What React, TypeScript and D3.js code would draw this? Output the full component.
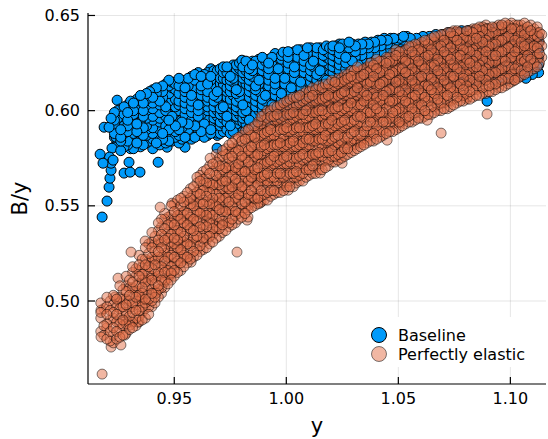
import React from 'react';
import * as d3 from 'd3';

// Baseline: x value (y) with the B/y values, column by column
const baselineCols: [number, number[]][] = [
  [0.9233, [.581,.586,.588,.593,.595,.599]],
  [0.9261, [.579,.584,.586,.590,.594,.597,.601]],
  [0.9292, [.582,.584,.589,.592,.595,.599,.603]],
  [0.9318, [.580,.585,.588,.591,.594,.598,.600,.604]],
  [0.9349, [.581,.584,.589,.593,.595,.598,.602,.605,.608]],
  [0.9376, [.583,.587,.590,.592,.596,.600,.603,.606,.609]],
  [0.9404, [.580,.585,.588,.591,.595,.597,.601,.604,.607,.611]],
  [0.9435, [.582,.586,.590,.594,.596,.599,.603,.605,.609,.612]],
  [0.9462, [.583,.585,.589,.592,.597,.600,.602,.606,.608,.611,.614]],
  [0.9490, [.584,.588,.591,.593,.597,.601,.604,.607,.610,.612,.615]],
  [0.9521, [.583,.587,.590,.594,.598,.600,.603,.605,.609,.613,.617]],
  [0.9548, [.586,.589,.592,.596,.598,.601,.604,.607,.610,.612,.615]],
  [0.9577, [.585,.588,.591,.595,.599,.602,.605,.608,.611,.614,.618]],
  [0.9607, [.587,.590,.594,.597,.600,.603,.605,.609,.612,.614,.617,.620]],
  [0.9634, [.586,.591,.593,.596,.599,.602,.606,.608,.611,.615,.619]],
  [0.9663, [.588,.590,.594,.598,.601,.603,.606,.609,.613,.616,.618,.622]],
  [0.9692, [.587,.591,.595,.597,.600,.604,.607,.610,.612,.615,.619,.621]],
  [0.9719, [.589,.593,.596,.599,.602,.605,.608,.611,.614,.617,.620,.623]],
  [0.9750, [.588,.592,.594,.598,.601,.604,.606,.610,.613,.616,.618,.622]],
  [0.9777, [.590,.593,.597,.600,.602,.605,.609,.611,.614,.618,.621,.624]],
  [0.9806, [.589,.594,.596,.599,.603,.606,.608,.612,.615,.617,.620,.623]],
  [0.9835, [.591,.595,.598,.601,.604,.607,.610,.613,.616,.619,.622,.625]],
  [0.9863, [.592,.594,.598,.602,.605,.608,.611,.613,.617,.620,.622,.626]],
  [0.9893, [.593,.597,.600,.603,.606,.609,.612,.615,.618,.621,.624,.628]],
  [0.9921, [.594,.598,.601,.604,.607,.609,.613,.616,.619,.622,.625,.627]],
  [0.9950, [.595,.599,.602,.605,.608,.611,.614,.617,.620,.623,.626,.630]],
  [0.9978, [.597,.600,.603,.606,.609,.612,.615,.618,.621,.624,.627,.629]],
  [1.0008, [.597,.601,.604,.607,.610,.613,.616,.619,.622,.625,.628,.631]],
  [1.0036, [.599,.602,.605,.608,.611,.614,.617,.620,.623,.626,.629,.631]],
  [1.0064, [.599,.603,.606,.609,.612,.615,.618,.621,.624,.627,.630,.632]],
  [1.0094, [.600,.604,.607,.610,.613,.616,.619,.622,.625,.628,.630,.633]],
  [1.0121, [.602,.605,.608,.611,.614,.617,.620,.623,.626,.629,.632]],
  [1.0151, [.602,.606,.609,.612,.615,.618,.621,.624,.627,.630,.633]],
  [1.0179, [.603,.607,.610,.613,.616,.619,.622,.625,.628,.631,.634]],
  [1.0208, [.604,.608,.611,.614,.617,.620,.623,.626,.629,.632,.634]],
  [1.0237, [.605,.608,.612,.615,.618,.621,.624,.627,.630,.633,.635]],
  [1.0265, [.606,.609,.612,.616,.619,.622,.625,.628,.631,.634]],
  [1.0294, [.606,.610,.613,.617,.620,.623,.626,.629,.632,.635]],
  [1.0322, [.607,.611,.614,.617,.621,.624,.627,.630,.633,.635]],
  [1.0352, [.608,.611,.615,.618,.621,.624,.628,.631,.634,.636]],
  [1.0380, [.609,.612,.616,.619,.622,.625,.628,.631,.634,.636]],
  [1.0409, [.609,.613,.616,.620,.623,.626,.629,.632,.635,.637]],
  [1.0437, [.610,.613,.617,.620,.623,.627,.630,.633,.636,.638]],
  [1.0466, [.610,.614,.617,.621,.624,.627,.630,.633,.636,.638]],
  [1.0495, [.611,.614,.618,.621,.624,.628,.631,.634,.637]],
  [1.0523, [.611,.615,.618,.622,.625,.628,.631,.634,.637,.639]],
  [1.0553, [.612,.615,.619,.622,.625,.629,.632,.635,.638]],
  [1.0581, [.612,.616,.619,.623,.626,.629,.632,.635,.638]],
  [1.0610, [.613,.616,.620,.623,.626,.630,.633,.636,.639]],
  [1.0638, [.613,.617,.620,.624,.627,.630,.633,.636,.639]],
  [1.0667, [.614,.617,.621,.624,.627,.631,.634,.637,.640]],
  [1.0696, [.614,.618,.621,.625,.628,.631,.634,.637,.640]],
  [1.0724, [.615,.618,.622,.625,.628,.632,.635,.638,.641]],
  [1.0754, [.614,.618,.622,.626,.629,.632,.635,.638,.641]],
  [1.0782, [.615,.619,.623,.626,.629,.633,.636,.639,.642]],
  [1.0811, [.616,.619,.623,.627,.630,.633,.636,.639,.642]],
  [1.0839, [.615,.620,.624,.627,.630,.634,.637,.640,.642]],
  [1.0868, [.616,.620,.624,.628,.631,.634,.637,.640,.643]],
  [1.0897, [.617,.621,.625,.628,.631,.635,.638,.641,.643]],
  [1.0925, [.616,.621,.625,.629,.632,.635,.638,.641,.643]],
  [1.0955, [.617,.622,.626,.629,.632,.636,.639,.642,.644]],
  [1.0983, [.616,.620,.625,.629,.633,.636,.639,.642,.644]],
  [1.1012, [.617,.621,.626,.630,.633,.637,.640,.643]],
  [1.1040, [.618,.622,.626,.630,.634,.637,.640,.643]],
  [1.1069, [.617,.621,.627,.631,.634,.637,.640,.642]],
  [1.1098, [.619,.623,.627,.631,.635,.638,.641]],
  [1.1126, [.620,.624,.628,.632,.636,.639]],
];

// Baseline: second set of columns, between the first ones
const baselineCols2: [number, number[]][] = [
  [0.9247, [.583,.590,.596,.600]],
  [0.9276, [.581,.588,.592,.598,.602]],
  [0.9305, [.580,.586,.591,.597,.601,.605]],
  [0.9333, [.583,.589,.593,.596,.603,.606]],
  [0.9362, [.582,.587,.591,.597,.600,.604,.607]],
  [0.9390, [.584,.589,.594,.598,.602,.605,.610]],
  [0.9420, [.583,.587,.592,.599,.602,.606,.609,.612]],
  [0.9448, [.585,.588,.592,.595,.601,.604,.607,.610,.613]],
  [0.9476, [.584,.590,.595,.599,.603,.605,.609,.613,.616]],
  [0.9505, [.586,.589,.592,.596,.599,.602,.606,.611,.614]],
  [0.9534, [.585,.591,.594,.597,.601,.604,.608,.611,.616]],
  [0.9562, [.587,.590,.593,.597,.600,.603,.607,.610,.613,.617]],
  [0.9592, [.586,.592,.596,.599,.601,.606,.610,.612,.616,.619]],
  [0.9620, [.589,.592,.595,.598,.601,.604,.608,.611,.613,.618]],
  [0.9649, [.587,.590,.595,.600,.602,.605,.607,.610,.614,.617,.620]],
  [0.9677, [.589,.593,.596,.599,.602,.605,.608,.612,.615,.619,.621]],
  [0.9705, [.588,.592,.594,.598,.601,.606,.609,.611,.614,.617,.622]],
  [0.9735, [.590,.594,.597,.600,.603,.607,.610,.612,.616,.620,.623]],
  [0.9763, [.589,.592,.596,.599,.603,.606,.608,.612,.615,.617,.621,.624]],
  [0.9791, [.591,.595,.598,.601,.604,.607,.610,.614,.616,.619,.622,.625]],
  [0.9820, [.590,.593,.597,.600,.602,.605,.609,.612,.614,.618,.621,.626]],
  [0.9849, [.592,.596,.599,.603,.606,.609,.612,.615,.618,.621,.624,.626]],
  [0.9878, [.593,.597,.600,.604,.607,.610,.614,.616,.619,.623,.627]],
  [0.9907, [.594,.596,.599,.602,.605,.608,.611,.614,.617,.620,.623,.626]],
  [0.9936, [.595,.600,.603,.606,.608,.612,.615,.618,.621,.624,.628]],
  [0.9964, [.596,.598,.601,.604,.607,.610,.613,.616,.619,.622,.625,.629]],
  [0.9993, [.598,.601,.605,.608,.611,.614,.617,.620,.623,.626,.630]],
  [1.0022, [.598,.602,.606,.609,.612,.615,.618,.621,.624,.627,.630]],
  [1.0050, [.600,.603,.606,.610,.613,.616,.619,.622,.625,.628,.632]],
  [1.0079, [.601,.605,.608,.611,.614,.617,.620,.623,.626,.629,.631]],
  [1.0108, [.601,.606,.609,.612,.615,.618,.621,.624,.627,.631,.633]],
  [1.0136, [.603,.606,.610,.613,.616,.619,.622,.625,.628,.630,.633]],
  [1.0165, [.604,.607,.611,.614,.617,.620,.623,.626,.629,.632]],
  [1.0193, [.605,.609,.612,.615,.618,.621,.624,.627,.630,.633]],
  [1.0222, [.605,.610,.613,.616,.619,.622,.625,.628,.631,.634]],
  [1.0251, [.607,.610,.614,.617,.620,.623,.626,.629,.632,.635]],
  [1.0280, [.607,.611,.614,.618,.621,.624,.627,.630,.633,.636]],
  [1.0308, [.608,.612,.615,.619,.622,.625,.628,.631,.634]],
  [1.0337, [.609,.613,.616,.619,.623,.626,.629,.632,.635]],
  [1.0366, [.609,.614,.617,.620,.623,.626,.630,.633,.635]],
  [1.0394, [.610,.614,.618,.621,.624,.627,.630,.633,.636]],
  [1.0423, [.611,.615,.618,.621,.625,.628,.631,.634,.637]],
  [1.0451, [.611,.615,.619,.622,.625,.629,.632,.635,.637]],
  [1.0480, [.612,.616,.619,.623,.626,.629,.632,.635,.638]],
  [1.0509, [.612,.616,.620,.623,.627,.630,.633,.636,.638]],
  [1.0538, [.613,.617,.620,.624,.627,.630,.634,.637,.639]],
  [1.0567, [.613,.617,.621,.624,.628,.631,.634,.637]],
  [1.0596, [.614,.618,.621,.625,.628,.631,.635,.638]],
  [1.0624, [.614,.618,.622,.625,.629,.632,.635,.638]],
  [1.0652, [.615,.619,.622,.626,.629,.632,.636,.639]],
  [1.0681, [.615,.619,.623,.626,.630,.633,.636,.639]],
  [1.0710, [.616,.620,.623,.627,.630,.633,.637,.640]],
  [1.0739, [.616,.620,.624,.627,.631,.634,.637,.640]],
  [1.0768, [.617,.621,.624,.628,.631,.634,.638,.641]],
  [1.0796, [.617,.621,.625,.628,.632,.635,.638,.641]],
  [1.0825, [.617,.622,.625,.629,.632,.635,.639,.641]],
  [1.0853, [.618,.622,.626,.629,.633,.636,.639,.642]],
  [1.0882, [.618,.622,.626,.630,.633,.636,.639,.642]],
  [1.0911, [.618,.623,.627,.630,.634,.637,.640,.642]],
  [1.0940, [.619,.623,.627,.631,.634,.637,.640,.643]],
  [1.0969, [.619,.624,.628,.631,.635,.638,.641,.643]],
  [1.0997, [.620,.624,.628,.632,.635,.638,.641]],
  [1.1026, [.619,.624,.629,.632,.636,.639,.642]],
  [1.1054, [.620,.625,.629,.633,.636,.639]],
  [1.1083, [.621,.625,.630,.633,.637,.640]],
  [1.1112, [.622,.626,.630,.634,.638]],
];

const baselineExtra: [number, number][] = [
  [0.9169, .5771], [0.9182, .5724], [0.9178, .5441], [0.9200, .5525], [0.9209, .5598],
  [0.9213, .5645], [0.9218, .5687], [0.9218, .5724], [0.9227, .5740], [0.9187, .5913],
  [0.9209, .5913], [0.9218, .5960], [0.9232, .5913], [0.9240, .5861], [0.9245, .6055],
  [0.9222, .5803], [0.9211, .5756], [0.9276, .5672], [0.9303, .5677], [0.9347, .5677],
  [0.9298, .5729], [0.9428, .5729], [0.9468, .5808], [0.9548, .5808], [0.9691, .5803],
  [0.9691, .5882], [0.9802, .6265], [0.9825, .6254], [0.9986, .6307], [1.0896, .6050],
];

// Perfectly elastic
const elasticCols: [number, number[]][] = [
  [0.9172, [.484,.491,.494,.499]],
  [0.9199, [.480,.486,.488,.493,.497,.502]],
  [0.9228, [.478,.482,.486,.491,.494,.498,.503]],
  [0.9257, [.481,.485,.488,.491,.496,.499,.502,.508]],
  [0.9285, [.483,.488,.490,.494,.498,.501,.505,.508,.513]],
  [0.9314, [.486,.489,.494,.497,.499,.503,.507,.510,.515,.518]],
  [0.9343, [.489,.492,.495,.500,.503,.505,.509,.513,.516,.519,.524]],
  [0.9371, [.491,.496,.499,.501,.506,.510,.512,.516,.519,.522,.528]],
  [0.9400, [.497,.500,.504,.506,.511,.513,.517,.521,.523,.528,.531,.536]],
  [0.9429, [.502,.506,.508,.513,.515,.519,.523,.526,.530,.532,.537,.541]],
  [0.9457, [.507,.510,.515,.517,.521,.525,.527,.532,.534,.538,.543,.546]],
  [0.9486, [.511,.514,.518,.522,.524,.529,.531,.535,.539,.541,.545,.550]],
  [0.9515, [.515,.519,.521,.526,.528,.532,.535,.537,.542,.545,.548,.553]],
  [0.9543, [.518,.522,.524,.529,.531,.534,.539,.541,.545,.547,.552,.555]],
  [0.9572, [.522,.524,.529,.531,.536,.538,.542,.544,.549,.551,.554,.559]],
  [0.9601, [.524,.527,.532,.534,.538,.542,.545,.547,.551,.555,.557,.562,.565]],
  [0.9629, [.527,.531,.533,.538,.540,.545,.547,.551,.553,.558,.561,.564,.568]],
  [0.9658, [.530,.534,.536,.541,.543,.546,.551,.553,.557,.560,.562,.567,.571]],
  [0.9687, [.533,.537,.539,.543,.547,.550,.552,.556,.560,.562,.566,.570,.573,.577]],
  [0.9715, [.536,.540,.542,.547,.549,.553,.555,.559,.563,.565,.569,.571,.576,.579]],
  [0.9744, [.539,.541,.546,.548,.552,.556,.559,.561,.565,.569,.571,.575,.578,.582]],
  [0.9773, [.541,.545,.547,.552,.554,.558,.562,.564,.568,.570,.574,.578,.580,.585]],
  [0.9801, [.544,.547,.551,.555,.558,.560,.564,.568,.570,.574,.576,.580,.584,.587]],
  [0.9830, [.548,.550,.554,.556,.561,.563,.567,.569,.573,.577,.579,.583,.586,.590]],
  [0.9859, [.550,.554,.556,.560,.564,.567,.569,.573,.576,.578,.582,.586,.588,.592]],
  [0.9887, [.552,.555,.558,.563,.565,.568,.572,.574,.577,.581,.584,.587,.590,.593,.597]],
  [0.9916, [.553,.557,.561,.563,.567,.571,.573,.577,.580,.582,.586,.589,.592,.596,.600]],
  [0.9945, [.556,.558,.563,.565,.569,.572,.576,.578,.582,.585,.587,.591,.595,.597,.602]],
  [0.9973, [.557,.561,.565,.567,.571,.574,.577,.581,.583,.586,.590,.592,.596,.600,.603]],
  [1.0002, [.560,.562,.566,.570,.572,.576,.579,.582,.585,.589,.591,.594,.598,.601,.605]],
  [1.0031, [.560,.565,.567,.571,.575,.577,.581,.584,.586,.590,.593,.596,.599,.603,.607]],
  [1.0059, [.563,.566,.570,.572,.576,.580,.582,.585,.589,.591,.595,.598,.600,.604,.608]],
  [1.0088, [.565,.569,.571,.575,.579,.581,.585,.587,.591,.594,.596,.600,.603,.606,.610]],
  [1.0117, [.567,.571,.574,.577,.580,.584,.586,.590,.592,.596,.599,.601,.605,.608,.612]],
  [1.0145, [.569,.572,.576,.578,.582,.585,.588,.591,.594,.597,.600,.603,.606,.609,.613]],
  [1.0174, [.570,.574,.578,.580,.584,.587,.589,.593,.596,.598,.602,.605,.607,.611,.614]],
  [1.0203, [.573,.576,.579,.583,.585,.589,.591,.595,.597,.601,.603,.607,.609,.612,.616]],
  [1.0231, [.574,.577,.581,.583,.587,.590,.593,.596,.598,.602,.605,.608,.611,.614,.617]],
  [1.0260, [.576,.580,.583,.586,.589,.592,.595,.599,.601,.604,.608,.610,.614,.616,.619]],
  [1.0289, [.578,.582,.584,.588,.591,.594,.598,.600,.604,.606,.609,.613,.615,.618,.621]],
  [1.0317, [.580,.584,.587,.590,.593,.597,.599,.603,.605,.608,.612,.614,.617,.620,.623]],
  [1.0346, [.582,.585,.589,.592,.596,.598,.601,.605,.607,.610,.613,.616,.619,.622]],
  [1.0375, [.584,.587,.590,.594,.597,.599,.603,.606,.608,.612,.615,.617,.621,.623,.625]],
  [1.0403, [.585,.589,.592,.595,.598,.601,.604,.607,.610,.613,.616,.619,.622,.624,.627]],
  [1.0432, [.587,.590,.594,.597,.599,.603,.606,.608,.612,.615,.617,.621,.623,.626]],
  [1.0461, [.589,.592,.596,.598,.602,.605,.607,.611,.613,.617,.619,.622,.626,.628]],
  [1.0489, [.590,.594,.597,.600,.603,.606,.609,.612,.615,.618,.621,.624,.627,.629,.632]],
  [1.0518, [.592,.595,.599,.601,.605,.608,.610,.614,.616,.620,.622,.626,.628,.631]],
  [1.0547, [.594,.597,.600,.604,.606,.609,.613,.615,.619,.621,.625,.627,.630,.634]],
  [1.0575, [.595,.599,.602,.605,.608,.611,.614,.617,.620,.623,.626,.629,.632,.635]],
  [1.0604, [.596,.600,.603,.606,.609,.613,.615,.618,.622,.624,.627,.631,.633,.636]],
  [1.0633, [.598,.601,.605,.607,.611,.613,.617,.619,.623,.625,.629,.631,.635,.637]],
  [1.0661, [.599,.602,.606,.609,.612,.615,.618,.621,.624,.627,.630,.633,.636,.639]],
  [1.0690, [.600,.604,.607,.610,.613,.616,.619,.622,.625,.628,.631,.634,.637,.640]],
  [1.0719, [.601,.605,.608,.611,.614,.617,.620,.623,.626,.629,.632,.635,.638,.641]],
  [1.0747, [.603,.606,.610,.612,.616,.618,.622,.624,.628,.630,.634,.636,.639,.642]],
  [1.0776, [.605,.608,.611,.614,.617,.620,.623,.626,.629,.632,.635,.638,.641]],
  [1.0805, [.606,.609,.613,.615,.619,.621,.625,.627,.631,.633,.637,.639,.642]],
  [1.0833, [.607,.611,.614,.617,.620,.623,.626,.629,.632,.635,.638,.641,.643]],
  [1.0862, [.608,.612,.615,.618,.621,.624,.627,.630,.633,.636,.639,.642,.644]],
  [1.0891, [.609,.613,.616,.619,.622,.625,.628,.631,.634,.637,.640,.643,.645]],
  [1.0919, [.610,.614,.617,.620,.623,.626,.629,.632,.635,.638,.641,.644]],
  [1.0948, [.612,.615,.619,.621,.625,.627,.631,.633,.637,.639,.642,.645]],
  [1.0977, [.613,.617,.620,.623,.626,.629,.632,.635,.638,.641,.644,.646]],
  [1.1005, [.615,.619,.622,.625,.628,.631,.634,.637,.640,.643,.646]],
  [1.1034, [.617,.620,.624,.627,.630,.633,.636,.639,.642,.645]],
  [1.1063, [.619,.622,.626,.628,.632,.634,.638,.640,.643,.646]],
  [1.1091, [.621,.624,.627,.631,.633,.637,.639,.642,.645]],
  [1.1120, [.623,.627,.629,.633,.635,.639,.641,.644]],
  [1.1140, [.628,.634,.640]],
];

// Perfectly elastic: second set of columns, between the first ones
const elasticCols2: [number, number[]][] = [
  [0.9186, [.482,.487,.496]],
  [0.9214, [.479,.484,.490,.495,.500]],
  [0.9243, [.480,.484,.489,.493,.497,.501]],
  [0.9271, [.482,.487,.490,.494,.497,.501,.506]],
  [0.9300, [.485,.489,.492,.496,.500,.503,.507,.511]],
  [0.9329, [.487,.491,.495,.498,.502,.505,.508,.513,.517]],
  [0.9357, [.490,.494,.497,.501,.504,.507,.511,.514,.518,.522]],
  [0.9386, [.493,.497,.501,.504,.508,.511,.514,.518,.521,.525,.530]],
  [0.9414, [.499,.502,.505,.509,.512,.516,.519,.522,.526,.530,.534]],
  [0.9443, [.504,.507,.511,.514,.518,.521,.524,.528,.531,.535,.539,.543]],
  [0.9472, [.509,.512,.516,.519,.523,.526,.530,.533,.536,.540,.544]],
  [0.9500, [.513,.516,.520,.523,.527,.530,.533,.537,.540,.543,.547,.551]],
  [0.9529, [.516,.520,.523,.527,.530,.533,.536,.540,.543,.546,.550,.554]],
  [0.9558, [.520,.523,.526,.530,.533,.537,.540,.543,.546,.550,.553,.557]],
  [0.9586, [.523,.526,.530,.533,.537,.540,.543,.546,.550,.553,.556,.560]],
  [0.9615, [.526,.529,.533,.536,.539,.543,.546,.549,.552,.556,.559,.563,.566]],
  [0.9644, [.528,.532,.535,.539,.542,.545,.548,.552,.555,.558,.562,.565,.569]],
  [0.9672, [.531,.535,.538,.541,.545,.548,.551,.554,.558,.561,.564,.568,.572]],
  [0.9701, [.534,.538,.541,.544,.548,.551,.554,.557,.561,.564,.567,.571,.575]],
  [0.9730, [.537,.541,.544,.547,.550,.554,.557,.560,.563,.567,.570,.573,.577,.580]],
  [0.9758, [.540,.543,.547,.550,.553,.557,.560,.563,.566,.569,.573,.576,.580,.583]],
  [0.9787, [.543,.546,.549,.553,.556,.559,.562,.566,.569,.572,.575,.579,.582,.586]],
  [0.9816, [.546,.549,.552,.556,.559,.562,.565,.568,.572,.575,.578,.581,.585,.589]],
  [0.9844, [.549,.552,.555,.558,.562,.565,.568,.571,.574,.578,.581,.584,.587,.591]],
  [0.9873, [.551,.554,.558,.561,.564,.567,.570,.574,.577,.580,.583,.586,.590,.594]],
  [0.9902, [.553,.556,.560,.563,.566,.569,.572,.576,.579,.582,.585,.588,.591,.595,.598]],
  [0.9930, [.555,.558,.562,.565,.568,.571,.574,.577,.581,.584,.587,.590,.593,.597,.600]],
  [0.9959, [.557,.560,.563,.567,.570,.573,.576,.579,.582,.585,.589,.592,.595,.598,.602]],
  [0.9988, [.558,.562,.565,.568,.572,.575,.578,.581,.584,.587,.590,.593,.597,.600,.604]],
  [1.0016, [.560,.563,.567,.570,.573,.577,.580,.583,.586,.589,.592,.595,.598,.602,.606]],
  [1.0045, [.562,.565,.568,.572,.575,.578,.581,.584,.588,.591,.594,.597,.600,.603,.607]],
  [1.0074, [.563,.567,.570,.574,.577,.580,.583,.586,.589,.592,.595,.598,.601,.605,.609]],
  [1.0102, [.566,.569,.573,.576,.579,.582,.585,.588,.591,.594,.597,.600,.603,.607,.610]],
  [1.0131, [.567,.571,.574,.577,.581,.584,.587,.590,.593,.596,.599,.602,.605,.608,.611]],
  [1.0160, [.569,.573,.576,.579,.582,.585,.588,.591,.594,.597,.600,.603,.606,.609,.612]],
  [1.0188, [.571,.574,.578,.581,.584,.587,.590,.593,.596,.599,.602,.605,.608,.611,.614]],
  [1.0217, [.573,.576,.579,.582,.586,.589,.592,.595,.598,.601,.604,.607,.610,.613,.615]],
  [1.0246, [.575,.578,.581,.584,.588,.591,.594,.597,.600,.603,.606,.609,.612,.615,.617]],
  [1.0274, [.577,.580,.583,.586,.590,.593,.596,.599,.602,.605,.608,.611,.614,.617,.619]],
  [1.0303, [.579,.582,.585,.589,.592,.595,.598,.601,.604,.607,.610,.613,.616,.619,.621]],
  [1.0332, [.581,.584,.587,.591,.594,.597,.600,.603,.606,.609,.612,.615,.618,.621]],
  [1.0360, [.583,.586,.589,.592,.596,.599,.602,.605,.608,.611,.614,.617,.620,.623]],
  [1.0389, [.584,.588,.591,.594,.597,.600,.603,.606,.609,.612,.615,.618,.621,.624]],
  [1.0418, [.586,.589,.593,.596,.599,.602,.605,.608,.611,.614,.617,.620,.623,.626]],
  [1.0446, [.588,.591,.594,.597,.601,.604,.607,.610,.613,.616,.619,.622,.625,.628]],
  [1.0475, [.589,.593,.596,.599,.602,.605,.608,.611,.614,.617,.620,.623,.626,.630]],
  [1.0504, [.591,.594,.598,.601,.604,.607,.610,.613,.616,.619,.622,.625,.628,.631]],
  [1.0532, [.593,.596,.599,.602,.605,.608,.611,.614,.617,.620,.623,.626,.629,.632]],
  [1.0561, [.594,.598,.601,.604,.607,.610,.613,.616,.619,.622,.625,.628,.631,.634]],
  [1.0590, [.596,.599,.602,.605,.608,.611,.614,.617,.620,.623,.626,.629,.632,.635]],
  [1.0618, [.597,.600,.604,.607,.610,.613,.616,.619,.622,.625,.628,.631,.634,.637]],
  [1.0647, [.598,.602,.605,.608,.611,.614,.617,.620,.623,.626,.629,.632,.635,.638]],
  [1.0676, [.600,.603,.606,.609,.612,.615,.618,.621,.624,.627,.630,.633,.636,.639]],
  [1.0704, [.601,.604,.607,.610,.613,.616,.619,.622,.625,.628,.631,.634,.637,.640]],
  [1.0733, [.602,.605,.609,.612,.615,.618,.621,.624,.627,.630,.633,.636,.639,.641]],
  [1.0762, [.604,.607,.610,.613,.616,.619,.622,.625,.628,.631,.634,.637,.640,.642]],
  [1.0790, [.605,.608,.611,.614,.617,.620,.623,.626,.629,.632,.635,.638,.641]],
  [1.0819, [.606,.610,.613,.616,.619,.622,.625,.628,.631,.634,.637,.640,.642]],
  [1.0848, [.608,.611,.614,.617,.620,.623,.626,.629,.632,.635,.638,.641,.643]],
  [1.0876, [.609,.612,.615,.618,.621,.624,.627,.630,.633,.636,.639,.642,.644]],
  [1.0905, [.610,.613,.616,.619,.622,.625,.628,.631,.634,.637,.640,.643]],
  [1.0934, [.611,.614,.617,.620,.623,.626,.629,.632,.635,.638,.641,.644]],
  [1.0962, [.612,.616,.619,.622,.625,.628,.631,.634,.637,.640,.643,.645]],
  [1.0991, [.614,.617,.620,.623,.627,.630,.633,.636,.639,.642,.645]],
  [1.1020, [.616,.619,.622,.625,.628,.631,.634,.637,.640,.643,.645]],
  [1.1048, [.618,.621,.624,.627,.630,.633,.636,.639,.642,.645]],
  [1.1077, [.620,.623,.626,.629,.632,.635,.638,.641,.644]],
  [1.1106, [.622,.625,.628,.631,.634,.637,.640,.643]],
  [1.1130, [.625,.630,.636,.641]],
];

const elasticExtra: [number, number][] = [
  [0.9178, .4616], [0.9173, .4811], [0.9218, .4758], [0.9262, .4769], [0.9280, .4821],
  [0.9338, .4889], [0.9303, .4874], [0.9173, .4952], [0.9236, .5021], [0.9307, .5257],
  [0.9370, .5315], [0.9419, .5042], [0.9352, .5005], [0.9459, .5110], [0.9486, .5147],
  [0.9575, .5204], [0.9780, .5257], [0.9535, .5257], [0.9829, .5441], [0.9883, .5514],
  [1.0008, .5582], [1.0151, .5672], [1.0249, .5724], [1.0334, .5829], [1.0450, .5845],
  [1.0691, .5882], [1.0896, .5982], [1.0508, .5934], [1.0629, .5950], [1.0808, .6071],
  [1.1017, .6160], [0.9437, .5493], [0.9490, .5514], [0.9660, .5750], [0.9249, .5120],
  [0.9825, .5425],
];

const seriesNames = ['Baseline', 'Perfectly elastic'];
const seriesColors = ['#009AFA', '#E36F47'];
const xTicks = [0.95, 1.0, 1.05, 1.1];
const yTicks = [0.5, 0.55, 0.6, 0.65];

function flatten(colSets: [number, number[]][][], extra: [number, number][]): [number, number][] {
  const pts: [number, number][] = [];
  colSets.forEach((cols) => cols.forEach(([xv, ys]) => ys.forEach((yv) => pts.push([xv, yv]))));
  extra.forEach((p) => pts.push(p));
  // mix the drawing order (a permutation only, values untouched)
  const n = pts.length;
  return pts
    .map((p, i) => ({ p, k: (i * 7919) % n }))
    .sort((a, b) => a.k - b.k)
    .map((d) => d.p);
}

export default function App() {
  const W = 548, H = 439;
  const left = 88, right = 546, top = 13, bottom = 384;
  const x = d3.scaleLinear().domain([0.9115, 1.1159]).range([left, right]);
  const y = d3.scaleLinear().domain([0.4564, 0.6513]).range([bottom, top]);
  const fmt = d3.format('.2f');
  const blue = flatten([baselineCols, baselineCols2], baselineExtra);
  const orange = flatten([elasticCols, elasticCols2], elasticExtra);
  const font = 'DejaVu Sans, sans-serif';

  return (
    <svg width={W} height={H} style={{ position: 'absolute', left: 0, top: 0, display: 'block' }} fontFamily={font}>
      <rect width={W} height={H} fill="#fff" />
      {xTicks.map((t) => (
        <line key={'gx' + t} x1={x(t)} x2={x(t)} y1={top} y2={bottom} stroke="#000" strokeOpacity={0.1} strokeWidth={1} />
      ))}
      {yTicks.map((t) => (
        <line key={'gy' + t} x1={left} x2={right} y1={y(t)} y2={y(t)} stroke="#000" strokeOpacity={0.1} strokeWidth={1} />
      ))}
      <g>
        {blue.map((p, i) => (
          <circle key={'b' + i} cx={x(p[0])} cy={y(p[1])} r={5} fill={seriesColors[0]} stroke="#000" strokeWidth={1} />
        ))}
      </g>
      <g>
        {orange.map((p, i) => (
          <circle key={'o' + i} cx={x(p[0])} cy={y(p[1])} r={5} fill={seriesColors[1]} fillOpacity={0.5} stroke="#000" strokeOpacity={0.5} strokeWidth={1} />
        ))}
      </g>
      <line x1={left} x2={left} y1={top} y2={bottom} stroke="#000" strokeWidth={1.2} />
      <line x1={left} x2={right} y1={bottom} y2={bottom} stroke="#000" strokeWidth={1.2} />
      {xTicks.map((t) => (
        <g key={'tx' + t}>
          <line x1={x(t)} x2={x(t)} y1={bottom} y2={bottom - 7} stroke="#000" strokeWidth={1.2} />
          <text x={x(t)} y={398} textAnchor="middle" dominantBaseline="central" fontSize={16}>{fmt(t)}</text>
        </g>
      ))}
      {yTicks.map((t) => (
        <g key={'ty' + t}>
          <line x1={left} x2={left + 7} y1={y(t)} y2={y(t)} stroke="#000" strokeWidth={1.2} />
          <text x={80} y={y(t)} textAnchor="end" dominantBaseline="central" fontSize={16}>{fmt(t)}</text>
        </g>
      ))}
      <text x={(left + right) / 2} y={426} textAnchor="middle" dominantBaseline="central" fontSize={21}>y</text>
      <text transform={`translate(20, ${(top + bottom) / 2}) rotate(-90)`} textAnchor="middle" dominantBaseline="central" fontSize={21}>B/y</text>
      <g>
        <rect x={367} y={317} width={177} height={50} fill="#fff" />
        {seriesNames.map((name, i) => (
          <g key={name}>
            <circle cx={379} cy={335 + i * 19} r={7.5} fill={seriesColors[i]} fillOpacity={i === 0 ? 1 : 0.5} stroke="#000" strokeOpacity={i === 0 ? 1 : 0.5} strokeWidth={1} />
            <text x={398} y={335 + i * 19} dominantBaseline="central" fontSize={16}>{name}</text>
          </g>
        ))}
      </g>
    </svg>
  );
}
